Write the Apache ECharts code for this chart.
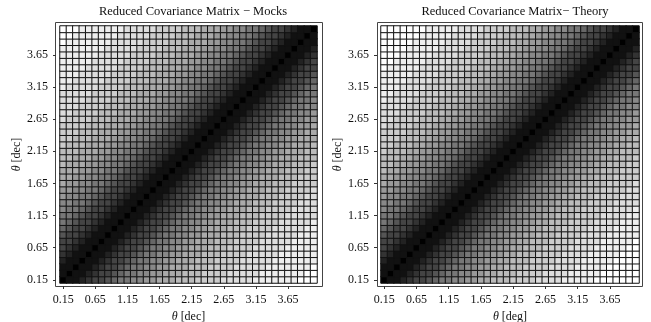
<!DOCTYPE html>
<html>
<head>
<meta charset="utf-8">
<script src="https://cdn.jsdelivr.net/npm/echarts@6/dist/echarts.min.js"></script>
<style>
  html, body { margin: 0; padding: 0; background: #fff; }
  #chart { width: 651px; height: 322px; }
</style>
</head>
<body>
<div id="chart"></div>
<script>
// bin centres (both axes)
const thetaLabels = [
  "0.15", "0.25", "0.35", "0.45", "0.55", "0.65", "0.75", "0.85", "0.95", "1.05",
  "1.15", "1.25", "1.35", "1.45", "1.55", "1.65", "1.75", "1.85", "1.95", "2.05",
  "2.15", "2.25", "2.35", "2.45", "2.55", "2.65", "2.75", "2.85", "2.95", "3.05",
  "3.15", "3.25", "3.35", "3.45", "3.55", "3.65", "3.75", "3.85", "3.95", "4.05"
];

// grey level per cell, 0 = black ... f = white; row 0 is the bottom row
const mocksRows = [
  "011234456778899aaabbbccccdddddeeeeeeefff",
  "1011234456778899aaabbbccccdddddeeeeeeeff",
  "11011234456778899aaabbbccccdddddeeeeeeef",
  "211011234456778899aaabbbccccdddddeeeeeee",
  "3211011234456778899aaabbbccccdddddeeeeee",
  "43211011234456778899aaabbbccccdddddeeeee",
  "443211011234456778899aaabbbccccdddddeeee",
  "5443211011234456778899aaabbbccccdddddeee",
  "65443211011234456778899aaabbbccccdddddee",
  "765443211011234456778899aaabbbccccddddde",
  "7765443211011234456778899aaabbbccccddddd",
  "87765443211011234456778899aaabbbccccdddd",
  "887765443211011234456778899aaabbbccccddd",
  "9887765443211011234456778899aaabbbccccdd",
  "99887765443211011234456778899aaabbbccccd",
  "a99887765443211011234456778899aaabbbcccc",
  "aa99887765443211011234456778899aaabbbccc",
  "aaa99887765443211011234456778899aaabbbcc",
  "baaa99887765443211011234456778899aaabbbc",
  "bbaaa99887765443211011234456778899aaabbb",
  "bbbaaa99887765443211011234456778899aaabb",
  "cbbbaaa99887765443211011234456778899aaab",
  "ccbbbaaa99887765443211011234456778899aaa",
  "cccbbbaaa99887765443211011234456778899aa",
  "ccccbbbaaa99887765443211011234456778899a",
  "dccccbbbaaa99887765443211011234456778899",
  "ddccccbbbaaa9988776544321101123445677889",
  "dddccccbbbaaa998877654432110112344567788",
  "ddddccccbbbaaa99887765443211011234456778",
  "dddddccccbbbaaa9988776544321101123445677",
  "edddddccccbbbaaa998877654432110112344567",
  "eedddddccccbbbaaa99887765443211011234456",
  "eeedddddccccbbbaaa9988776544321101123445",
  "eeeedddddccccbbbaaa998877654432110112344",
  "eeeeedddddccccbbbaaa99887765443211011234",
  "eeeeeedddddccccbbbaaa9988776544321101123",
  "eeeeeeedddddccccbbbaaa998877654432110112",
  "feeeeeeedddddccccbbbaaa99887765443211011",
  "ffeeeeeeedddddccccbbbaaa9988776544321101",
  "fffeeeeeeedddddccccbbbaaa998877654432110"
];

const theoryRows = [
  "011234456778899aabbbccccddddeeeeefffffff",
  "1011234456778899aabbbccccddddeeeeeffffff",
  "11011234456778899aabbbccccddddeeeeefffff",
  "211011234456778899aabbbccccddddeeeeeffff",
  "3211011234456778899aabbbccccddddeeeeefff",
  "43211011234456778899aabbbccccddddeeeeeff",
  "443211011234456778899aabbbccccddddeeeeef",
  "5443211011234456778899aabbbccccddddeeeee",
  "65443211011234456778899aabbbccccddddeeee",
  "765443211011234456778899aabbbccccddddeee",
  "7765443211011234456778899aabbbccccddddee",
  "87765443211011234456778899aabbbccccdddde",
  "887765443211011234456778899aabbbccccdddd",
  "9887765443211011234456778899aabbbccccddd",
  "99887765443211011234456778899aabbbccccdd",
  "a99887765443211011234456778899aabbbccccd",
  "aa99887765443211011234456778899aabbbcccc",
  "baa99887765443211011234456778899aabbbccc",
  "bbaa99887765443211011234456778899aabbbcc",
  "bbbaa99887765443211011234456778899aabbbc",
  "cbbbaa99887765443211011234456778899aabbb",
  "ccbbbaa99887765443211011234456778899aabb",
  "cccbbbaa99887765443211011234456778899aab",
  "ccccbbbaa99887765443211011234456778899aa",
  "dccccbbbaa99887765443211011234456778899a",
  "ddccccbbbaa99887765443211011234456778899",
  "dddccccbbbaa9988776544321101123445677889",
  "ddddccccbbbaa998877654432110112344567788",
  "eddddccccbbbaa99887765443211011234456778",
  "eeddddccccbbbaa9988776544321101123445677",
  "eeeddddccccbbbaa998877654432110112344567",
  "eeeeddddccccbbbaa99887765443211011234456",
  "eeeeeddddccccbbbaa9988776544321101123445",
  "feeeeeddddccccbbbaa998877654432110112344",
  "ffeeeeeddddccccbbbaa99887765443211011234",
  "fffeeeeeddddccccbbbaa9988776544321101123",
  "ffffeeeeeddddccccbbbaa998877654432110112",
  "fffffeeeeeddddccccbbbaa99887765443211011",
  "ffffffeeeeeddddccccbbbaa9988776544321101",
  "fffffffeeeeeddddccccbbbaa998877654432110"
];

const panelTitles = ["Reduced Covariance Matrix \u2212 Mocks", "Reduced Covariance Matrix\u2212 Theory"];
const xNames = ["dec", "deg"];

function toCells(rows) {
  const cells = [];
  rows.forEach((row, y) => {
    for (let x = 0; x < row.length; x++) {
      cells.push([x, y, parseInt(row[x], 16)]);
    }
  });
  return cells;
}

const serif = "Liberation Serif";
const thetaRich = { i: { fontStyle: "italic", fontFamily: serif, fontSize: 12, color: "#111" } };

function xAxisFor(idx, unit) {
  return {
    type: "category",
    gridIndex: idx,
    data: thetaLabels,
    offset: 3,
    axisLine: { show: false },
    axisTick: { show: true, interval: 4, alignWithLabel: true, length: 3, lineStyle: { color: "#333" } },
    axisLabel: { interval: 4, margin: 8, fontFamily: serif, fontSize: 12, color: "#111" },
    splitLine: { show: false },
    name: "{i|\u03b8} [" + unit + "]",
    nameLocation: "middle",
    nameGap: 21,
    nameTextStyle: { fontFamily: serif, fontSize: 12, color: "#111", rich: thetaRich }
  };
}

function yAxisFor(idx) {
  return {
    type: "category",
    gridIndex: idx,
    data: thetaLabels,
    offset: 4,
    axisLine: { show: false },
    axisTick: { show: true, interval: 4, alignWithLabel: true, length: 3, lineStyle: { color: "#333" } },
    axisLabel: { interval: 4, margin: 8, fontFamily: serif, fontSize: 12, color: "#111" },
    splitLine: { show: false },
    name: "{i|\u03b8} [dec]",
    nameLocation: "middle",
    nameGap: 33,
    nameTextStyle: { fontFamily: serif, fontSize: 12, color: "#111", rich: thetaRich }
  };
}

function heatSeries(idx, rows) {
  return {
    type: "heatmap",
    xAxisIndex: idx,
    yAxisIndex: idx,
    data: toCells(rows),
    progressive: 0,
    itemStyle: { borderColor: "#111", borderWidth: 1 },
    emphasis: { disabled: true }
  };
}

const chart = echarts.init(document.getElementById("chart"), null, { renderer: "canvas" });

chart.setOption({
  animation: false,
  backgroundColor: "#fff",
  title: [
    { text: panelTitles[0], left: 188, top: 0, textAlign: "center",
      textStyle: { fontFamily: serif, fontSize: 12.5, fontWeight: "normal", color: "#111" } },
    { text: panelTitles[1], left: 510, top: 0, textAlign: "center",
      textStyle: { fontFamily: serif, fontSize: 12.5, fontWeight: "normal", color: "#111" } }
  ],
  grid: [
    { left: 60, top: 26, width: 257, height: 257, outerBoundsMode: "none" },
    { left: 381, top: 26, width: 258, height: 257, outerBoundsMode: "none" }
  ],
  xAxis: [xAxisFor(0, xNames[0]), xAxisFor(1, xNames[1])],
  yAxis: [yAxisFor(0), yAxisFor(1)],
  visualMap: {
    type: "continuous",
    show: false,
    min: 0,
    max: 15,
    dimension: 2,
    seriesIndex: [0, 1],
    inRange: { color: ["#000000", "#ffffff"] }
  },
  graphic: [
    { type: "rect", silent: true, shape: { x: 55.5, y: 22.5, width: 267, height: 264 },
      style: { fill: null, stroke: "#444", lineWidth: 1 } },
    { type: "rect", silent: true, shape: { x: 377.5, y: 22.5, width: 265, height: 264 },
      style: { fill: null, stroke: "#444", lineWidth: 1 } }
  ],
  series: [heatSeries(0, mocksRows), heatSeries(1, theoryRows)]
});
</script>
</body>
</html>
